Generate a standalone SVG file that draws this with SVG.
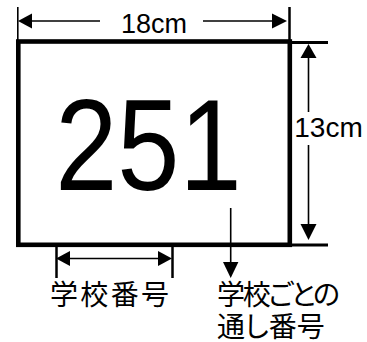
<svg xmlns="http://www.w3.org/2000/svg" width="367" height="342" viewBox="0 0 367 342">
<style>
.ln{stroke:#000;fill:none}
.thin{stroke-width:1.6}
.tick{stroke-width:2.5}
.ah{fill:#000;stroke:none}
.lat{font-family:"Liberation Sans",Arial,sans-serif;fill:#000}
.jp{font-family:"Noto Sans CJK JP","Noto Sans CJK SC",sans-serif;font-size:28px;fill:#000;font-feature-settings:"palt"}
</style>
<rect width="367" height="342" fill="#fff"/>
<g id="plate">
<rect x="18.3" y="41.5" width="271.5" height="203.3" class="ln" stroke-width="4.6"/>
<text class="lat" font-size="130" transform="translate(55.2,190) scale(0.86,1)">251</text>
</g>
<g id="connectors">
<line x1="17.8" y1="7" x2="17.8" y2="40" class="ln thin"/>
<line x1="289.5" y1="7" x2="289.5" y2="42" class="ln tick"/>
<line x1="31" y1="21" x2="100" y2="21" class="ln thin"/>
<line x1="203" y1="21" x2="273" y2="21" class="ln thin"/>
<polygon points="18,21 32,13.5 32,28.5" class="ah"/>
<polygon points="287,21 272,13.5 272,28.5" class="ah"/>
<line x1="292" y1="42.5" x2="328" y2="42.5" class="ln" stroke-width="3"/>
<line x1="292" y1="245" x2="328" y2="245" class="ln" stroke-width="3"/>
<line x1="308.5" y1="57" x2="308.5" y2="112" class="ln thin"/>
<line x1="308.5" y1="145" x2="308.5" y2="226" class="ln thin"/>
<polygon points="308.5,44 300.5,58 316.5,58" class="ah"/>
<polygon points="308.5,240 300.5,224 316.5,224" class="ah"/>
<line x1="56.5" y1="247" x2="56.5" y2="278" class="ln tick"/>
<line x1="172.5" y1="247" x2="172.5" y2="278" class="ln tick"/>
<line x1="70" y1="258.5" x2="159" y2="258.5" class="ln thin"/>
<polygon points="56,258.5 70,251 70,266" class="ah"/>
<polygon points="172,258.5 158,251 158,266" class="ah"/>
<line x1="230.7" y1="208" x2="230.7" y2="263" class="ln thin"/>
<polygon points="230.7,278 223,262 238.4,262" class="ah"/>
</g>
<g id="labels">
<text class="lat" font-size="27" x="154" y="33" text-anchor="middle">18cm</text>
<text class="lat" font-size="28" x="294.3" y="136.7">13cm</text>
<text class="jp" x="50" y="305" textLength="119" lengthAdjust="spacing">学校番号</text>
<text class="jp" x="217" y="305" textLength="123" lengthAdjust="spacing">学校ごとの</text>
<text class="jp" x="217" y="337">通し番号</text>
</g>
</svg>
